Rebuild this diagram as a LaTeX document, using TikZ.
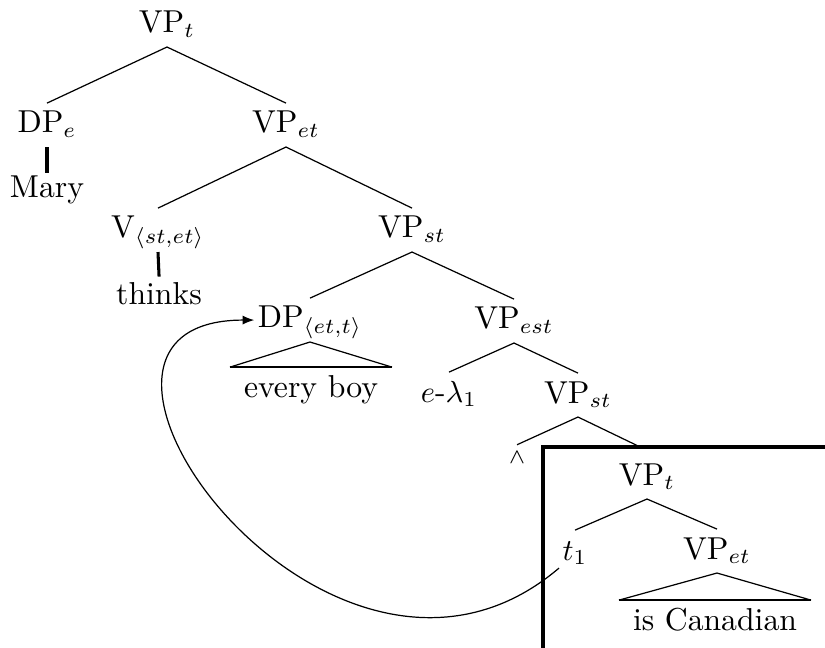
\documentclass[tikz,border=0pt]{standalone}
\usetikzlibrary{arrows.meta}
\begin{document}
\begin{tikzpicture}[x=0.328pt,y=-0.328pt,
  font=\fontsize{10.4}{12.5}\selectfont,
  tn/.style={anchor=base, inner xsep=1pt, inner ysep=2.4pt, text height=7.2pt, text depth=2pt},
  tleaf/.style={tn, inner xsep=4.4pt},
  br/.style={line width=0.4pt},
  unary/.style={line width=1pt},
  tribase/.style={line width=0.8pt},
  framebox/.style={line width=1pt},
  movearrow/.style={line width=0.4pt, -{Latex[length=3.8pt,width=3pt]}}]
\useasboundingbox (0,0) rectangle (825,648);
% nodes
\node[tn] (VPt) at (167,33) {VP$_t$};
\node[tn] (DPe) at (47,133) {DP$_e$};
\node[tn] (VPet) at (286,133) {VP$_{et}$};
\node[tn] (Mary) at (47,198) {Mary};
\node[tn] (V) at (158,238) {V$_{\langle st,et\rangle}$};
\node[tn] (VPst) at (412,238) {VP$_{st}$};
\node[tn] (thinks) at (159,305) {thinks};
\node[tn] (DPq) at (310,328) {DP$_{\langle et,t\rangle}$};
\node[tn] (VPest) at (514,329) {VP$_{est}$};
\node[tleaf] (everyboy) at (311,397) {every boy};
\node[tn] (elam) at (449,402) {$e$-$\lambda_1$};
\node[tn] (VPstb) at (578,403) {VP$_{st}$};
\node[inner xsep=0pt, inner ysep=2.2pt] (wedge) at (517,458) {\fontsize{7}{8}\selectfont$\wedge$};
\node[tn] (VPtb) at (647,485) {VP$_t$};
\node[tn] (t1) at (575,560) {$t_1$};
\node[tn] (VPetb) at (717,559) {VP$_{et}$};
\node[tleaf] (canadian) at (715,630) {is Canadian};
% branches
\draw[br] (DPe.north) -- (VPt.south) -- (VPet.north);
\draw[unary, shorten >=-1.5pt] (DPe.south) -- (Mary.north);
\draw[unary, shorten >=-0.5pt] (V.south) -- (thinks.north);
\draw[br] (V.north) -- (VPet.south) -- (VPst.north);
\draw[br] (DPq.north) -- (VPst.south) -- (VPest.north);
\draw[br] (everyboy.north west) -- (DPq.south) -- (everyboy.north east);
\draw[tribase] (everyboy.north west) -- (everyboy.north east);
\draw[br] (elam.north) -- (VPest.south) -- (VPstb.north);
\draw[br] (VPstb.south) -- (wedge.north);
\begin{scope}
  \clip (0,0) rectangle (825,447);
  \draw[br] (VPstb.south) -- ([xshift=3.3pt]VPtb.north);
\end{scope}
% frame
\draw[framebox] (825,447) -- (543,447) -- (543,648);
% framed subtree
\draw[br] (t1.north) -- (VPtb.south) -- (VPetb.north);
\draw[br] (canadian.north west) -- (VPetb.south) -- (canadian.north east);
\draw[tribase] (canadian.north west) -- (canadian.north east);
% movement arrow
\draw[movearrow] (t1.225) .. controls +(-229,195) and +(-245,0) .. (DPq.west);
\end{tikzpicture}
\end{document}
